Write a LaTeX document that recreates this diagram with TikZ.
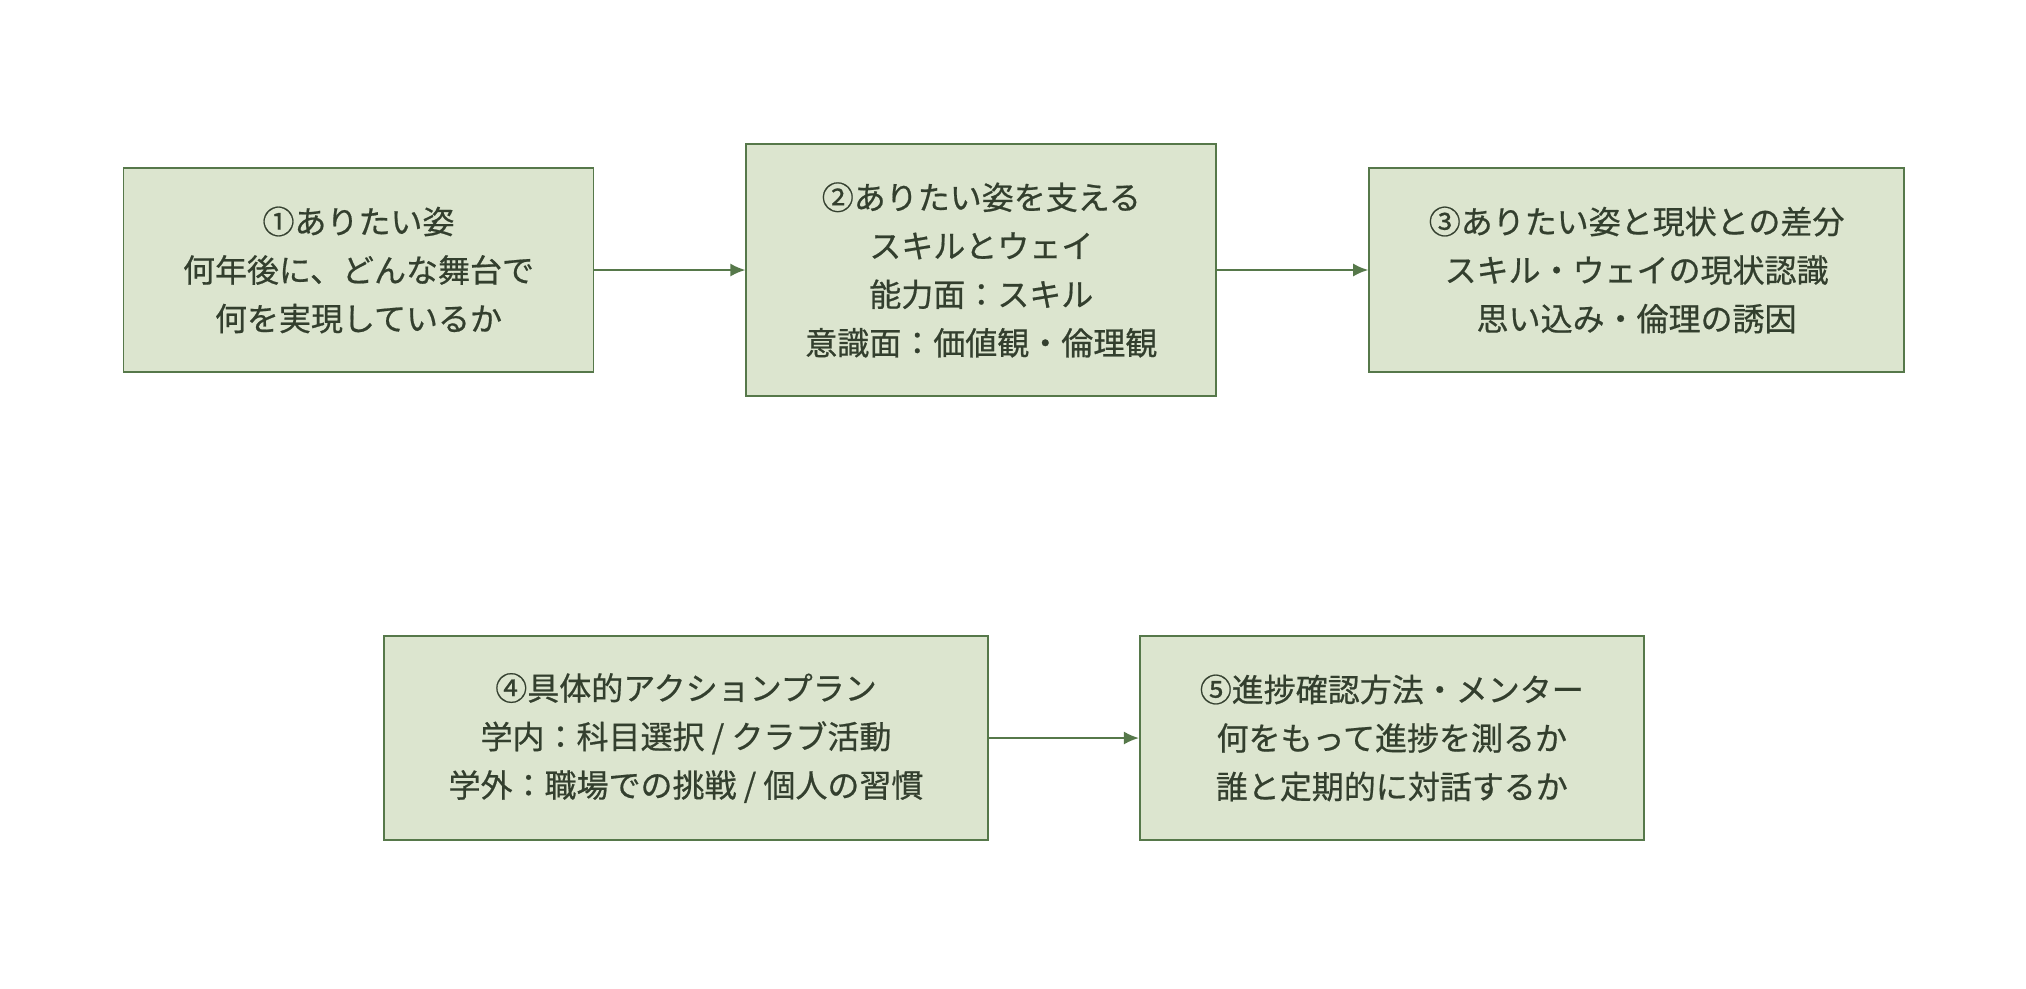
\documentclass[tikz,border=0pt]{standalone}
\usepackage{fontspec}
\usepackage{tikz}
\usetikzlibrary{positioning}
\usetikzlibrary{arrows.meta}
\newfontfamily\jpfont[FakeBold=0.6]{Noto Sans CJK JP}
\definecolor{boxfill}{HTML}{DCE5CF}
\definecolor{boxline}{HTML}{56784A}
\definecolor{boxtext}{HTML}{333F2E}
\tikzset{>={Latex[length=15pt,width=13pt]}}
\tikzset{
    stage/.style = {draw=boxline, fill=boxfill, rectangle, line width=1.8pt,
        text=boxtext, align=center, inner sep=0pt,
        font=\jpfont\fontsize{32pt}{48.5pt}\selectfont,
        minimum height=204pt, minimum width=470pt},
    link/.style = {draw=boxline, line width=1.8pt, ->}
}
\begin{document}
\begin{tikzpicture}[x=1pt, y=1pt, node distance=151pt]
            \useasboundingbox (0,0) rectangle (2026,-988);
            \node [stage] (vision) at (358.5,-270) {①ありたい姿\\何年後に、どんな舞台で\\何を実現しているか};
            \node [stage, right=of vision, minimum height=252pt] (support) {②ありたい姿を支える\\スキルとウェイ\\能力面：スキル\\意識面：価値観・倫理観};
            \node [stage, right=of support, minimum width=535pt] (gap) {③ありたい姿と現状との差分\\スキル・ウェイの現状認識\\思い込み・倫理の誘因};
            \node [stage, minimum width=604pt] (plan) at (686,-738) {④具体的アクションプラン\\学内：科目選択 / クラブ活動\\学外：職場での挑戦 / 個人の習慣};
            \node [stage, right=150pt of plan, minimum width=504pt] (check) {⑤進捗確認方法・メンター\\何をもって進捗を測るか\\誰と定期的に対話するか};

            \draw [link] (vision) -- (support);
            \draw [link] (support) -- (gap);
            \draw [link] (plan) -- (check);
        \end{tikzpicture}
\end{document}
